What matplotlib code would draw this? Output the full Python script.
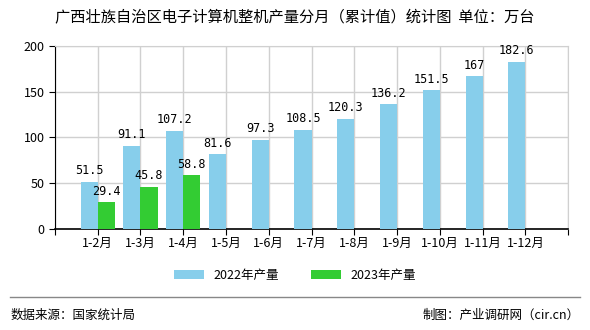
import matplotlib.pyplot as plt
import numpy as np

plt.rcParams['font.family'] = ['Noto Sans CJK SC', 'DejaVu Sans']

months = ['1-2月', '1-3月', '1-4月', '1-5月', '1-6月', '1-7月', '1-8月',
          '1-9月', '1-10月', '1-11月', '1-12月']
v2022 = [51.5, 91.1, 107.2, 81.6, 97.3, 108.5, 120.3, 136.2, 151.5, 167, 182.6]
v2023 = [29.4, 45.8, 58.8]

blue = '#87ceeb'
green = '#33cc33'
w = 0.4

fig = plt.figure(figsize=(5.9, 3.3), dpi=100)
ax = fig.add_axes([0.093, 0.306, 0.87, 0.555])

x = np.arange(len(months))
ax.bar(x - w / 2, v2022, w, color=blue, label='2022年产量', zorder=3)
ax.bar(x[:len(v2023)] + w / 2, v2023, w, color=green, label='2023年产量', zorder=3)

for i, v in enumerate(v2022):
    ax.text(i - w / 2, v + 5, f'{v:g}', ha='center', va='bottom', fontsize=8.5,
            family='DejaVu Sans Mono')
for i, v in enumerate(v2023):
    ax.text(i + w / 2, v + 5, f'{v:g}', ha='center', va='bottom', fontsize=8.5,
            family='DejaVu Sans Mono')

ax.set_xlim(-1, len(months))
ax.set_ylim(0, 200)
ax.set_yticks([0, 50, 100, 150, 200])
ax.set_xticks(np.arange(-1, len(months) + 1))
ax.set_xticklabels([''] + months + [''])
ax.tick_params(axis='both', labelsize=9, length=4, color='black')
ax.tick_params(axis='x', pad=2)
ax.grid(True, color='#d0d0d0', linewidth=1, zorder=0)
for s in ['top', 'right']:
    ax.spines[s].set_color('#d0d0d0')
ax.spines['left'].set_color('black')
ax.spines['bottom'].set_color('black')
ax.spines['bottom'].set_linewidth(1.2)

fig.text(0.5, 0.945, '广西壮族自治区电子计算机整机产量分月（累计值）统计图  单位：万台',
         ha='center', va='center', fontsize=11)

fig.legend(loc='center', bbox_to_anchor=(0.5, 0.165), ncol=2, frameon=False,
           fontsize=9, handlelength=2.4, handleheight=0.8, columnspacing=2.5)

fig.add_artist(plt.Line2D([0.017, 0.983], [0.1, 0.1], color='#888888', linewidth=1))
fig.text(0.017, 0.045, '数据来源：国家统计局', ha='left', va='center', fontsize=9)
fig.text(0.983, 0.045, '制图：产业调研网（cir.cn）', ha='right', va='center', fontsize=9)

fig.savefig('out.png', dpi=100)
